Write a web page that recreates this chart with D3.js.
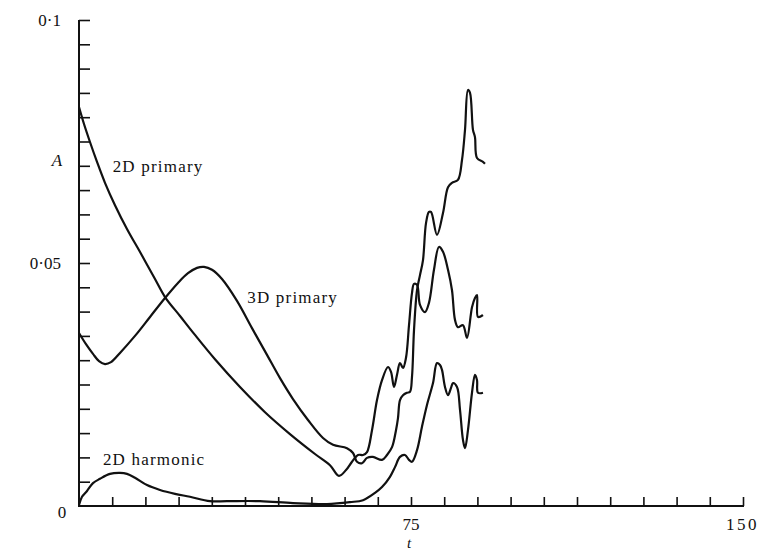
<!DOCTYPE html>
<html>
<head>
<meta charset="utf-8">
<script src="https://cdn.jsdelivr.net/npm/d3@7"></script>
<style>
  body { margin: 0; background: #fff; }
  text { font-family: "Liberation Serif", "DejaVu Serif", serif; fill: #111; }
</style>
</head>
<body>
<div id="container"></div>
<script>
// [t, A] pairs
var primary2D = [[0,0.0821],[1.13,0.0786],[2.48,0.0749],[4.07,0.0708],[5.87,0.0665],[8.13,0.0619],[10.84,0.0570],[14.01,0.0519],[17.17,0.0467],[19.43,0.0430],[22.82,0.0391],[26.20,0.0352],[30.72,0.0302],[36.37,0.0245],[42.02,0.0193],[47.66,0.0148],[53.31,0.0107],[56.70,0.0084],[58.73,0.0062],[60.32,0.0074],[61.67,0.0091],[63.03,0.0105],[64.16,0.0105],[65.06,0.0111],[66.19,0.0156],[67.32,0.0218],[68.45,0.0259],[69.80,0.0286],[70.48,0.0276],[71.16,0.0245],[71.84,0.0270],[72.51,0.0294],[73.19,0.0284],[73.87,0.0305],[74.55,0.0372],[75.22,0.0438],[75.68,0.0457],[76.36,0.0455],[77.03,0.0414],[78.16,0.0399],[79.06,0.0418],[80.19,0.0486],[81.32,0.0533],[82.23,0.0523],[83.36,0.0486],[84.26,0.0444],[84.94,0.0383],[85.61,0.0368],[86.74,0.0372],[87.65,0.0346],[88.78,0.0409],[89.45,0.0428],[89.91,0.0434],[90.13,0.0389],[91.26,0.0393]];
var primary3D = [[0,0.0356],[1.58,0.0333],[3.16,0.0313],[4.52,0.0298],[5.87,0.0292],[7.23,0.0296],[9.26,0.0315],[12.65,0.0350],[16.04,0.0389],[19.43,0.0428],[22.36,0.0459],[24.62,0.0479],[26.66,0.0490],[28.24,0.0492],[30.05,0.0486],[32.30,0.0467],[35.69,0.0422],[39.08,0.0366],[42.47,0.0311],[45.41,0.0263],[48.34,0.0220],[51.73,0.0177],[55.12,0.0140],[57.38,0.0126],[60.54,0.0119],[61.90,0.0109],[62.80,0.0091],[63.93,0.0088],[65.06,0.0099],[66.41,0.0101],[68.45,0.0095],[69.58,0.0105],[70.71,0.0121],[71.61,0.0156],[72.06,0.0181],[72.51,0.0218],[73.19,0.0228],[74.10,0.0233],[74.77,0.0235],[75.22,0.0265],[75.68,0.0362],[76.36,0.0444],[77.03,0.0475],[77.71,0.0506],[78.39,0.0582],[79.06,0.0605],[79.52,0.0605],[80.87,0.0558],[82.23,0.0603],[83.36,0.0656],[84.26,0.0665],[85.61,0.0671],[86.52,0.0712],[87.20,0.0774],[87.87,0.0856],[88.33,0.0850],[89.00,0.0774],[89.45,0.0759],[89.91,0.0716],[91.26,0.0708],[91.71,0.0704]];
var harmonic2D = [[0,0.0002],[0.68,0.0019],[1.81,0.0031],[3.16,0.0047],[4.74,0.0056],[7.00,0.0066],[9.26,0.0068],[10.84,0.0066],[12.65,0.0058],[15.36,0.0043],[18.30,0.0033],[21.69,0.0025],[25.07,0.0019],[29.59,0.0010],[33.43,0.0010],[40.89,0.0010],[48.34,0.0006],[56.02,0.0004],[61.22,0.0008],[64.16,0.0012],[66.87,0.0027],[68.45,0.0039],[70.25,0.0060],[71.38,0.0080],[72.51,0.0101],[73.64,0.0105],[74.55,0.0095],[75.22,0.0091],[76.36,0.0115],[77.48,0.0163],[78.61,0.0208],[79.97,0.0253],[80.87,0.0294],[81.55,0.0290],[82.00,0.0280],[82.68,0.0245],[83.36,0.0228],[84.04,0.0243],[84.49,0.0253],[85.39,0.0245],[86.07,0.0198],[86.74,0.0136],[87.20,0.0119],[87.87,0.0156],[88.78,0.0233],[89.45,0.0270],[89.91,0.0259],[90.13,0.0233],[91.26,0.0233]];

var xTicks = d3.range(0, 151, 7.5);
var yTicks = d3.range(0, 0.1001, 0.005);
var xLabels = [[0, '0'], [75, '75'], [150, '150']];
var yLabels = [[0.1, '0·1'], [0.05, '0·05']];
var curveLabels = [['2D primary', 7.6, 0.0688], ['3D primary', 38, 0.0417], ['2D harmonic', 5.4, 0.0085]];

var pageWidth = 760, pageHeight = 553;
var svg = d3.select('#container')
      .append('svg')
      .attr('width', pageWidth)
      .attr('height', pageHeight);

var x = d3.scaleLinear().domain([0, 150]).range([79, 743]);
var y = d3.scaleLinear().domain([0, 0.1]).range([506, 20]);

// axes, ticks pointing inwards
svg.append('g')
  .attr('transform', 'translate(0,' + y(0) + ')')
  .call(d3.axisTop(x).tickValues(xTicks.slice(1)).tickSize(9).tickSizeOuter(0).tickFormat(''))
  .call(function(g) {
    g.select('.domain').attr('stroke', '#111').attr('stroke-width', 2)
      .attr('d', 'M' + x(0) + ',0H' + (x(150) + 1));
    g.selectAll('.tick line').attr('stroke', '#111').attr('stroke-width', 1.6);
  });

svg.append('g')
  .attr('transform', 'translate(' + x(0) + ',0)')
  .call(d3.axisRight(y).tickValues(yTicks.slice(1)).tickSize(11).tickSizeOuter(0).tickFormat(''))
  .call(function(g) {
    g.select('.domain').attr('stroke', '#111').attr('stroke-width', 2)
      .attr('d', 'M0,' + (y(0) + 1) + 'V' + y(0.1));
    g.selectAll('.tick line').attr('stroke', '#111').attr('stroke-width', 1.6);
  });

svg.selectAll('.xlab')
  .data(xLabels)
  .enter()
  .append('text')
  .attr('x', function(d) { return d[0] === 0 ? x(0) - 17 : (d[0] === 150 ? x(d[0]) - 17 : x(d[0])); })
  .attr('y', function(d) { return d[0] === 0 ? 518 : 530; })
  .attr('text-anchor', function(d) { return d[0] === 150 ? 'start' : 'middle'; })
  .style('letter-spacing', function(d) { return d[0] === 150 ? '2.5px' : '0px'; })
  .style('font-size', '17px')
  .text(function(d) { return d[1]; });

svg.selectAll('.ylab')
  .data(yLabels)
  .enter()
  .append('text')
  .attr('x', x(0) - 18)
  .attr('y', function(d) { return y(d[0]) + 6; })
  .attr('text-anchor', 'end')
  .style('font-size', '17px')
  .text(function(d) { return d[1]; });

svg.append('text')
  .attr('x', 409).attr('y', 548)
  .attr('text-anchor', 'middle')
  .style('font-size', '15px').style('font-style', 'italic')
  .text('t');

svg.append('text')
  .attr('x', 57).attr('y', 166)
  .attr('text-anchor', 'middle')
  .style('font-size', '17px').style('font-style', 'italic')
  .text('A');

var line = d3.line()
  .x(function(d) { return x(d[0]); })
  .y(function(d) { return y(d[1]); })
  .curve(d3.curveCatmullRom.alpha(0.5));

svg.selectAll('.curve')
  .data([primary2D, primary3D, harmonic2D])
  .enter()
  .append('path')
  .attr('fill', 'none')
  .attr('stroke', '#111')
  .attr('stroke-width', 2.2)
  .attr('stroke-linejoin', 'round')
  .attr('d', line);

svg.selectAll('.clab')
  .data(curveLabels)
  .enter()
  .append('text')
  .attr('x', function(d) { return x(d[1]); })
  .attr('y', function(d) { return y(d[2]); })
  .style('font-size', '17px')
  .style('letter-spacing', '1.2px')
  .text(function(d) { return d[0]; });
</script>
</body>
</html>
